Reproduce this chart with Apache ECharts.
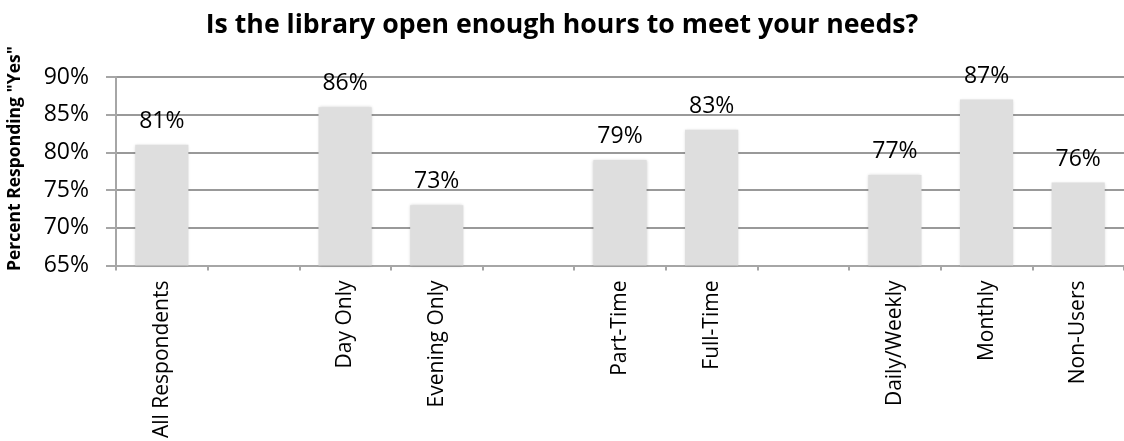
<!DOCTYPE html>
<html>
<head>
<meta charset="utf-8">
<script src="https://cdn.jsdelivr.net/npm/echarts@6/dist/echarts.min.js"></script>
<style>
  html, body { margin: 0; padding: 0; background: #ffffff; }
  #chart { width: 1124px; height: 441px; }
</style>
</head>
<body>
<div id="chart"></div>
<script>
// Survey groups; empty strings leave gaps between the groups
const categories = ['All Respondents', '', 'Day Only', 'Evening Only', '', 'Part-Time', 'Full-Time', '', 'Daily/Weekly', 'Monthly', 'Non-Users'];
// Percent answering "Yes" ('-' = no bar in a gap slot)
const yesPercent = [81, '-', 86, 73, '-', 79, 83, '-', 77, 87, 76];
// Value axis range
const yMin = 65;
const yMax = 90;
const yStep = 5;

const FONT = '"Open Sans", "DejaVu Sans", sans-serif';

const chart = echarts.init(document.getElementById('chart'), null, { renderer: 'canvas' });

chart.setOption({
  animation: false,
  backgroundColor: '#ffffff',
  title: {
    text: 'Is the library open enough hours to meet your needs?',
    left: 'center',
    top: 7,
    textStyle: { fontFamily: FONT, fontSize: 26.7, fontWeight: 'bold', color: '#000000' }
  },
  graphic: [{
    type: 'text',
    left: 6,
    top: 46,
    rotation: Math.PI / 2,
    style: {
      text: 'Percent Responding "Yes"',
      font: 'bold 17.5px ' + FONT,
      fill: '#000000'
    }
  }],
  grid: { left: 116, top: 77, bottom: 172, width: 1011 },
  xAxis: {
    type: 'category',
    data: categories,
    axisLine: { show: true, lineStyle: { color: '#a6a6a6', width: 2 } },
    axisTick: { show: true, length: 5, lineStyle: { color: '#a6a6a6', width: 2 } },
    axisLabel: {
      interval: 0,
      rotate: 90,
      margin: 15,
      fontFamily: FONT,
      fontSize: 21,
      color: '#000000'
    }
  },
  yAxis: {
    type: 'value',
    min: yMin,
    max: yMax,
    interval: yStep,
    axisLine: { show: true, lineStyle: { color: '#a6a6a6', width: 2 } },
    axisTick: { show: true, length: 10, lineStyle: { color: '#a6a6a6', width: 2 } },
    axisLabel: {
      formatter: '{value}%',
      margin: 27,
      fontFamily: FONT,
      fontSize: 23,
      color: '#000000'
    },
    splitLine: { show: true, lineStyle: { color: '#999999', width: 2 } }
  },
  series: [{
    type: 'bar',
    data: yesPercent,
    barWidth: '58%',
    itemStyle: {
      color: '#dedede',
      shadowColor: 'rgba(0,0,0,0.18)',
      shadowBlur: 3
    },
    label: {
      show: true,
      position: 'top',
      distance: 12,
      formatter: '{c}%',
      fontFamily: FONT,
      fontSize: 23,
      color: '#000000'
    }
  }]
});
</script>
</body>
</html>
